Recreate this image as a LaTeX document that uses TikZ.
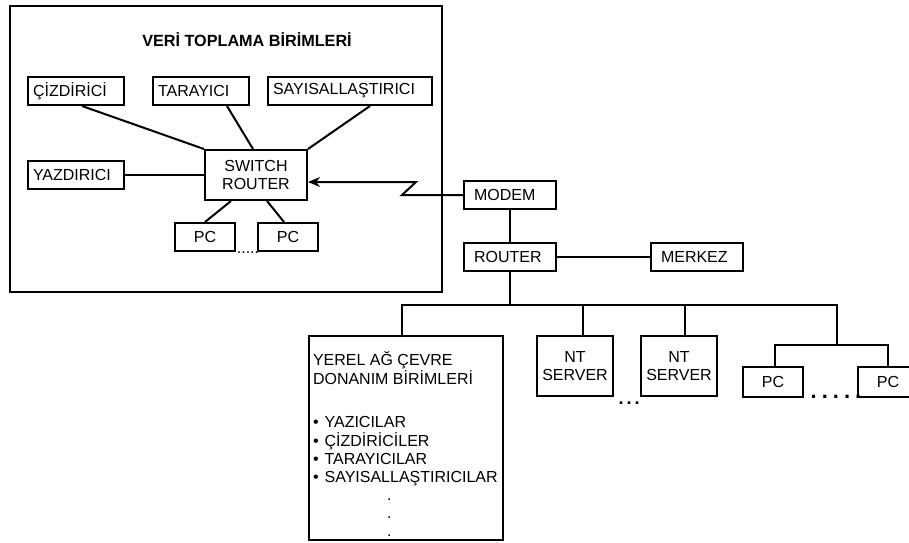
\documentclass[tikz,border=0pt]{standalone}
\usepackage{fontspec}
\setmainfont{Liberation Sans}
\usepackage{tikz}
\usetikzlibrary{positioning,calc,arrows.meta}
\newcommand{\boxfont}{\fontsize{16}{18}\selectfont}

\begin{document}
\begin{tikzpicture}[x=1pt, y=-1pt, line width=2pt,
    unit/.style={draw, inner sep=5pt, font=\boxfont, minimum height=28pt},
    leftunit/.style={unit, text width=#1, align=left},
    dots/.style={font=\boxfont, inner sep=0pt}]
      \useasboundingbox (0,0) rectangle (909,542);

      % Data collection site
      \node[draw, minimum width=432pt, minimum height=286pt, anchor=north west] (site) at (9,5) {};
      \node[font=\bfseries\fontsize{16.2}{19}\selectfont] (sitetitle) at (247,40) {VERİ TOPLAMA BİRİMLERİ};

      \node[leftunit=86pt] (ciz) at (76,91) {ÇİZDİRİCİ};
      \node[leftunit=86pt] (tara) at (201,91) {TARAYICI};
      \node[leftunit=154pt] (sayi) at (350,91) {SAYISALLAŞTIRICI};
      \node[leftunit=86pt] (yazd) at (76,175) {YAZDIRICI};
      \node[unit, minimum width=102pt, minimum height=50pt, align=center] (switch) at (256,175) {SWITCH\\ROUTER};
      \node[unit, minimum width=60pt, minimum height=28pt] (pca) at (205,237) {PC};
      \node[unit, minimum width=60pt, minimum height=28pt] (pcb) at (288,237) {PC};
      \node[dots] (pcdotsa) at (248,253) {.....};

      \draw ([xshift=6pt]ciz.south) -- (switch.north west);
      \draw ([xshift=26pt]tara.south) -- ([xshift=-3pt]switch.north);
      \draw ([xshift=20pt]sayi.south) -- (switch.north east);
      \draw (yazd) -- (switch);
      \draw ([xshift=-25pt]switch.south) -- (pca.north);
      \draw ([xshift=11pt]switch.south) -- ([xshift=-4pt]pcb.north);

      % Central side
      \node[leftunit=72pt, inner xsep=10pt] (modem) at (510,195) {MODEM};
      \node[leftunit=72pt, inner xsep=10pt] (router) at (510,257) {ROUTER};
      \node[leftunit=72pt, inner xsep=10pt] (merkez) at (697,257) {MERKEZ};

      \draw[-{Stealth[length=12pt,width=10pt]}] (modem.west) -- ++(-61,0) -- ++(14,-13) coordinate (zig) -- (zig -| switch.east);
      \draw (modem) -- (router);
      \draw (router) -- (merkez);

      % Local network
      \node[unit, minimum width=194pt, minimum height=204pt] (yerel) at (406,438) {};
      \node[font=\boxfont, inner sep=0pt, anchor=base west] (yereltext) at (312,365) {%
        \begin{tabular}[t]{@{}l@{}}
          YEREL AĞ ÇEVRE \\
          DONANIM BİRİMLERİ \\[25pt]
          •\hspace{6pt}YAZICILAR \\
          •\hspace{6pt}ÇİZDİRİCİLER \\
          •\hspace{6pt}TARAYICILAR \\
          •\hspace{6pt}SAYISALLAŞTIRICILAR \\
          \hspace*{74pt}. \\
          \hspace*{74pt}. \\
          \hspace*{74pt}.
        \end{tabular}};
      \node[unit, minimum width=76pt, minimum height=60pt, align=center] (nta) at (575,366) {NT\\SERVER};
      \node[unit, minimum width=76pt, minimum height=60pt, align=center] (ntb) at (679,366) {NT\\SERVER};
      \node[dots, font=\bfseries\fontsize{18}{18}\selectfont] (ntdots) at (629,403) {.\hspace{3pt}.\hspace{3pt}.};
      \node[unit, minimum width=60pt, minimum height=30pt] (pcc) at (773,382) {PC};
      \node[unit, minimum width=60pt, minimum height=30pt] (pcd) at (888,382) {PC};
      \node[dots, font=\bfseries\fontsize{22}{22}\selectfont] (pcdotsb) at (836,397) {.\hspace{5pt}.\hspace{5pt}.\hspace{5pt}.\hspace{5pt}.};

      \coordinate (bus) at ($(router.south)+(0,33)$);
      \coordinate (pcjoint) at (837,345);
      \coordinate (ntatop) at ([xshift=8pt]nta.north);
      \coordinate (ntbtop) at ([xshift=6pt]ntb.north);
      \coordinate (pcctop) at ([xshift=2pt]pcc.north);
      \draw (router.south) -- (bus);
      \draw ([xshift=-4pt]yerel.north) |- (bus) -| (pcjoint);
      \draw (ntatop) -- (ntatop |- bus);
      \draw (ntbtop) -- (ntbtop |- bus);
      \draw (pcctop) -- (pcctop |- pcjoint) -| (pcd.north);
    \end{tikzpicture}
\end{document}
